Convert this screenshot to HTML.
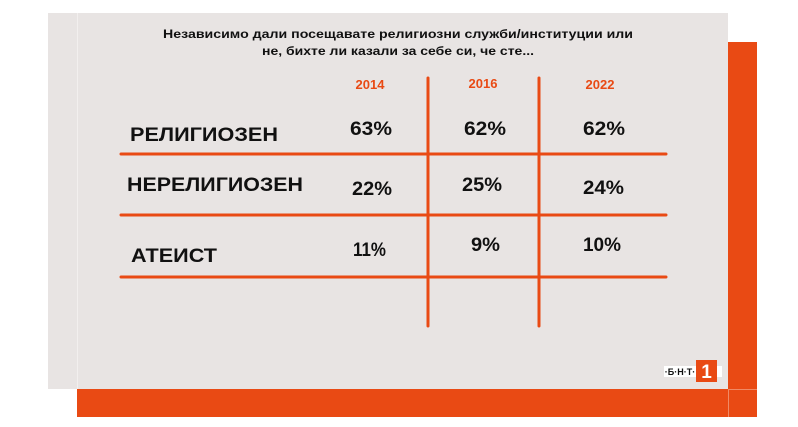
<!DOCTYPE html>
<html><head><meta charset="utf-8"><style>html,body{margin:0;padding:0;background:#fff}svg{display:block}</style></head><body>
<svg width="798" height="427" viewBox="0 0 798 427" xmlns="http://www.w3.org/2000/svg" font-family="Liberation Sans, DejaVu Sans, sans-serif" font-weight="bold">
<rect width="798" height="427" fill="#fff"/>
<rect x="77" y="42" width="680" height="375" fill="#e94a14"/>
<rect x="48" y="13" width="680" height="376" fill="#e8e4e3"/>
<line x1="77.5" y1="13" x2="77.5" y2="389" stroke="#f2efee" stroke-width="1"/>
<line x1="728.5" y1="389" x2="728.5" y2="417" stroke="#f08a66" stroke-width="1"/>
<line x1="728" y1="389.5" x2="757" y2="389.5" stroke="#f08a66" stroke-width="1"/>
<text x="398" y="38" font-size="11.5" text-anchor="middle" fill="#111" textLength="470" lengthAdjust="spacingAndGlyphs">Независимо дали посещавате религиозни служби/институции или</text>
<text x="398" y="55" font-size="11.5" text-anchor="middle" fill="#111" textLength="272" lengthAdjust="spacingAndGlyphs">не, бихте ли казали за себе си, че сте...</text>
<g fill="#e94a14" font-size="13" text-anchor="middle">
<text x="370" y="89">2014</text><text x="483" y="88">2016</text><text x="600" y="89">2022</text></g>
<g stroke="#e94a14" stroke-width="3" stroke-linecap="round">
<line x1="121" y1="154" x2="666" y2="154"/>
<line x1="121" y1="215" x2="666" y2="215"/>
<line x1="121" y1="277" x2="666" y2="277"/>
<line x1="428" y1="78" x2="428" y2="326"/>
<line x1="539" y1="78" x2="539" y2="326"/>
</g>
<g fill="#111" font-size="19">
<text x="130" y="141" textLength="148" lengthAdjust="spacingAndGlyphs">РЕЛИГИОЗЕН</text>
<text x="127" y="191" textLength="176" lengthAdjust="spacingAndGlyphs">НЕРЕЛИГИОЗЕН</text>
<text x="131" y="262" textLength="86" lengthAdjust="spacingAndGlyphs">АТЕИСТ</text>
<text x="350" y="135" textLength="42" lengthAdjust="spacingAndGlyphs">63%</text>
<text x="464" y="135" textLength="42" lengthAdjust="spacingAndGlyphs">62%</text>
<text x="583" y="135" textLength="42" lengthAdjust="spacingAndGlyphs">62%</text>
<text x="352" y="195" textLength="40" lengthAdjust="spacingAndGlyphs">22%</text>
<text x="462" y="191" textLength="40" lengthAdjust="spacingAndGlyphs">25%</text>
<text x="583" y="194" textLength="41" lengthAdjust="spacingAndGlyphs">24%</text>
<text x="353" y="256" textLength="33" lengthAdjust="spacingAndGlyphs">11%</text>
<text x="471" y="251" textLength="29" lengthAdjust="spacingAndGlyphs">9%</text>
<text x="583" y="251" textLength="38" lengthAdjust="spacingAndGlyphs">10%</text>
</g>
<rect x="664" y="366" width="32" height="11" fill="#fff"/>
<text x="680" y="375" font-size="9" text-anchor="middle" fill="#111">·Б·Н·Т·</text>
<rect x="696" y="360" width="21" height="22" fill="#e94a14"/>
<rect x="717" y="366" width="5" height="11" fill="#fff"/>
<text x="706.5" y="378" font-size="19" text-anchor="middle" fill="#fff">1</text>
</svg>
</body></html>
